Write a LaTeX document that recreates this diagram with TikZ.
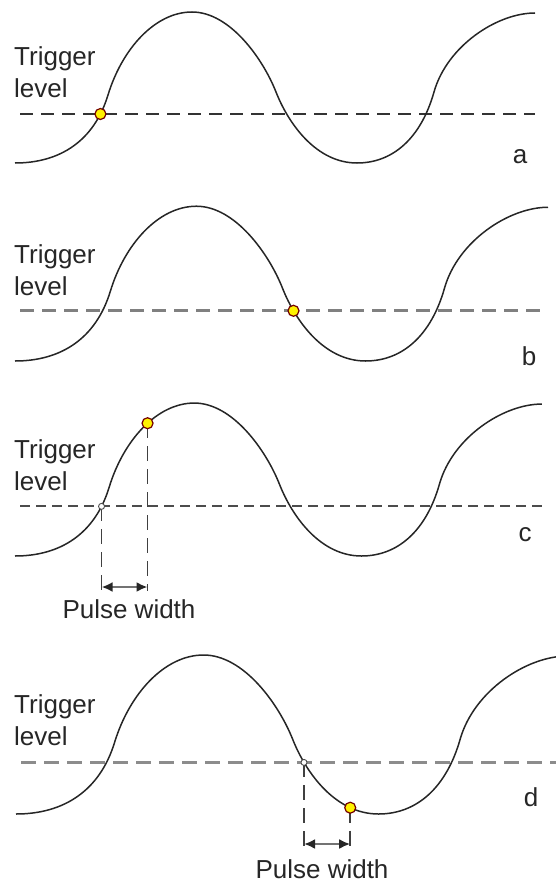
\documentclass[tikz,border=0pt]{standalone}
\usepackage{fontspec}
\setmainfont{Liberation Sans}
\usepackage{tikz}
\usetikzlibrary{arrows.meta, intersections, positioning}

\begin{document}
\begin{tikzpicture}[
    x=1pt, y=-1pt,
    wave/.style={line width=1.5pt, black!85},
    trig a/.style={dash pattern=on 13pt off 8pt, line width=2pt, black!80},
    trig b/.style={dash pattern=on 14pt off 8pt, line width=3pt, black!50},
    trig c/.style={dash pattern=on 10pt off 6pt, line width=2pt, black!70},
    trig d/.style={dash pattern=on 15pt off 8pt, line width=2.6pt, black!45},
    txt/.style={font=\fontsize{26}{32}\selectfont, text=black!85, inner sep=0pt, align=left},
    marker/.style={circle, fill=yellow, draw=black!55!red, line width=1.2pt, minimum size=11pt, inner sep=0pt},
    cross/.style={circle, fill=white, draw=black!70, line width=0.9pt, minimum size=6pt, inner sep=0pt},
    drop/.style={dash pattern=on 15pt off 8pt, line width=1.8pt, black!75},
    pw/.style={{Latex[length=11pt, width=10pt, color=black!85]}-{Latex[length=11pt, width=10pt, color=black!85]},
      line width=2.6pt, black!55},
]
  \useasboundingbox (0,0) rectangle (555,883);

  % the four traces
  \foreach \pn/\ox/\oy/\sx/\sy/\ty/\lx/\ly in {a/15/163/1/1/46/520/157,
      b/15/361/1.025/1.025/244/529/356, c/15/556/1.013/1.013/439/525/535,
      d/16/814/1.06/1.053/694/531/797}
  {
    \begin{scope}[shift={(\ox,\oy)}, xscale=\sx, yscale=\sy]
      \draw[trig \pn, name path global=trig\pn] (5,-49) -- (520,-49);
      \draw[wave, name path global=wave\pn] (0,0)
        .. controls (45,0) and (79,-22) .. (93,-68)
        .. controls (107,-114) and (140,-151) .. coordinate[pos=0.55] (up\pn) (177,-151)
        .. controls (215,-151) and (248,-104) .. (261,-71)
        .. controls (274,-38) and (302,0) .. coordinate[pos=0.76] (dn\pn) (342,0)
        .. controls (378,0) and (406,-25) .. (419,-71)
        .. controls (432,-117) and (482,-150) .. (520,-150);
    \end{scope}
    \node[txt, anchor=north west] (level\pn) at (14,\ty) {Trigger\\level};
    \node[txt] (letter\pn) at (\lx,\ly) {\pn};
  }

  \path[name intersections={of=wavea and triga, sort by=wavea, name=xa}];
  \path[name intersections={of=waveb and trigb, sort by=waveb, name=xb}];
  \path[name intersections={of=wavec and trigc, sort by=wavec, name=xc}];
  \path[name intersections={of=waved and trigd, sort by=waved, name=xd}];

  % pulse width, c
  \coordinate (basec) at (0,591);
  \coordinate (arrowc) at (0,587);
  \draw[drop] (xc-1) -- (xc-1 |- basec);
  \draw[drop] (upc) -- (upc |- basec);
  \draw[pw] (xc-1 |- arrowc) -- (upc |- arrowc);
  \node[txt] (widthc) at (129,609) {Pulse width};

  % pulse width, d
  \coordinate (based) at (0,848);
  \coordinate (arrowd) at (0,844);
  \draw[drop] (xd-2) -- (xd-2 |- based);
  \draw[drop] (dnd) -- (dnd |- based);
  \draw[pw] (xd-2 |- arrowd) -- (dnd |- arrowd);
  \node[txt] (widthd) at (322,869) {Pulse width};

  \node[marker] (dota) at (xa-1) {};
  \node[marker] (dotb) at (xb-2) {};
  \node[cross] (startc) at (xc-1) {};
  \node[marker] (dotc) at (upc) {};
  \node[cross] (startd) at (xd-2) {};
  \node[marker] (dotd) at (dnd) {};
\end{tikzpicture}
\end{document}
